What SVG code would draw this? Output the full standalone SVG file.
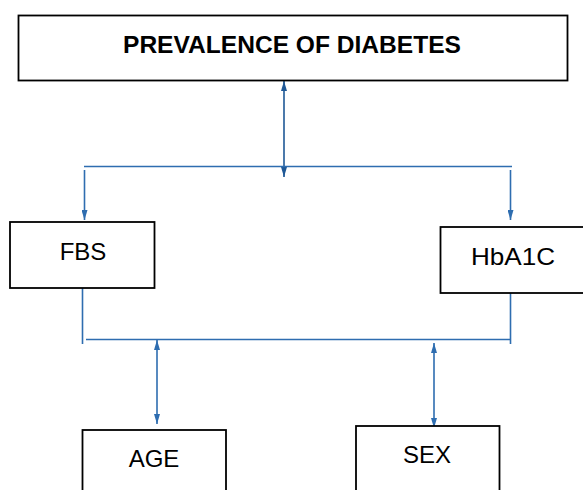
<svg xmlns="http://www.w3.org/2000/svg" width="583" height="490" viewBox="0 0 583 490">
<defs>
<style>
.box{fill:#fff;stroke:#000;stroke-width:1.8}
.lbl{font-family:"Liberation Sans",Arial,sans-serif;font-size:24px;fill:#000;text-anchor:middle}
.title{font-weight:bold}
.con{stroke:#2e6db0;stroke-width:1.6;fill:none}
.con.dark{stroke:#1f5896}
</style>
<marker id="ah" viewBox="0 0 10 6" refX="10" refY="3" markerWidth="10" markerHeight="6" markerUnits="userSpaceOnUse" orient="auto-start-reverse">
<path d="M0,0 L10,3 L0,6 z" fill="#2e6db0"/>
</marker>
<marker id="ahd" viewBox="0 0 10 6" refX="10" refY="3" markerWidth="10" markerHeight="6" markerUnits="userSpaceOnUse" orient="auto-start-reverse">
<path d="M0,0 L10,3 L0,6 z" fill="#1f5896"/>
</marker>
</defs>
<rect width="583" height="490" fill="#fff"/>
<g id="connectors">
<line class="con dark" x1="284" y1="81" x2="284" y2="177" marker-start="url(#ahd)" marker-end="url(#ahd)"/>
<line class="con" x1="84" y1="166.5" x2="512" y2="166.5"/>
<line class="con" x1="84.5" y1="170" x2="84.5" y2="220" marker-end="url(#ah)"/>
<line class="con" x1="510.5" y1="170" x2="510.5" y2="220" marker-end="url(#ah)"/>
<line class="con" x1="82.5" y1="288" x2="82.5" y2="344"/>
<line class="con" x1="510.5" y1="287" x2="510.5" y2="344"/>
<line class="con" x1="86" y1="339.5" x2="510" y2="339.5"/>
<line class="con" x1="157" y1="340" x2="157" y2="424" marker-start="url(#ah)" marker-end="url(#ah)"/>
<line class="con" x1="434" y1="343" x2="434" y2="428" marker-start="url(#ah)" marker-end="url(#ah)"/>
</g>
<g id="prevalence">
<rect class="box" x="18.5" y="15.5" width="549" height="65"/>
<text class="lbl title" x="292" y="53" textLength="338" lengthAdjust="spacingAndGlyphs">PREVALENCE OF DIABETES</text>
</g>
<g id="fbs">
<rect class="box" x="10" y="222" width="144.5" height="66"/>
<text class="lbl" x="83" y="260">FBS</text>
</g>
<g id="hba1c">
<rect class="box" x="440.5" y="227" width="150" height="66"/>
<text class="lbl" x="513" y="265" textLength="84" lengthAdjust="spacingAndGlyphs">HbA1C</text>
</g>
<g id="age">
<rect class="box" x="82.5" y="430" width="143.5" height="70"/>
<text class="lbl" x="154" y="467">AGE</text>
</g>
<g id="sex">
<rect class="box" x="356" y="426" width="143.5" height="74"/>
<text class="lbl" x="427" y="463">SEX</text>
</g>
</svg>
